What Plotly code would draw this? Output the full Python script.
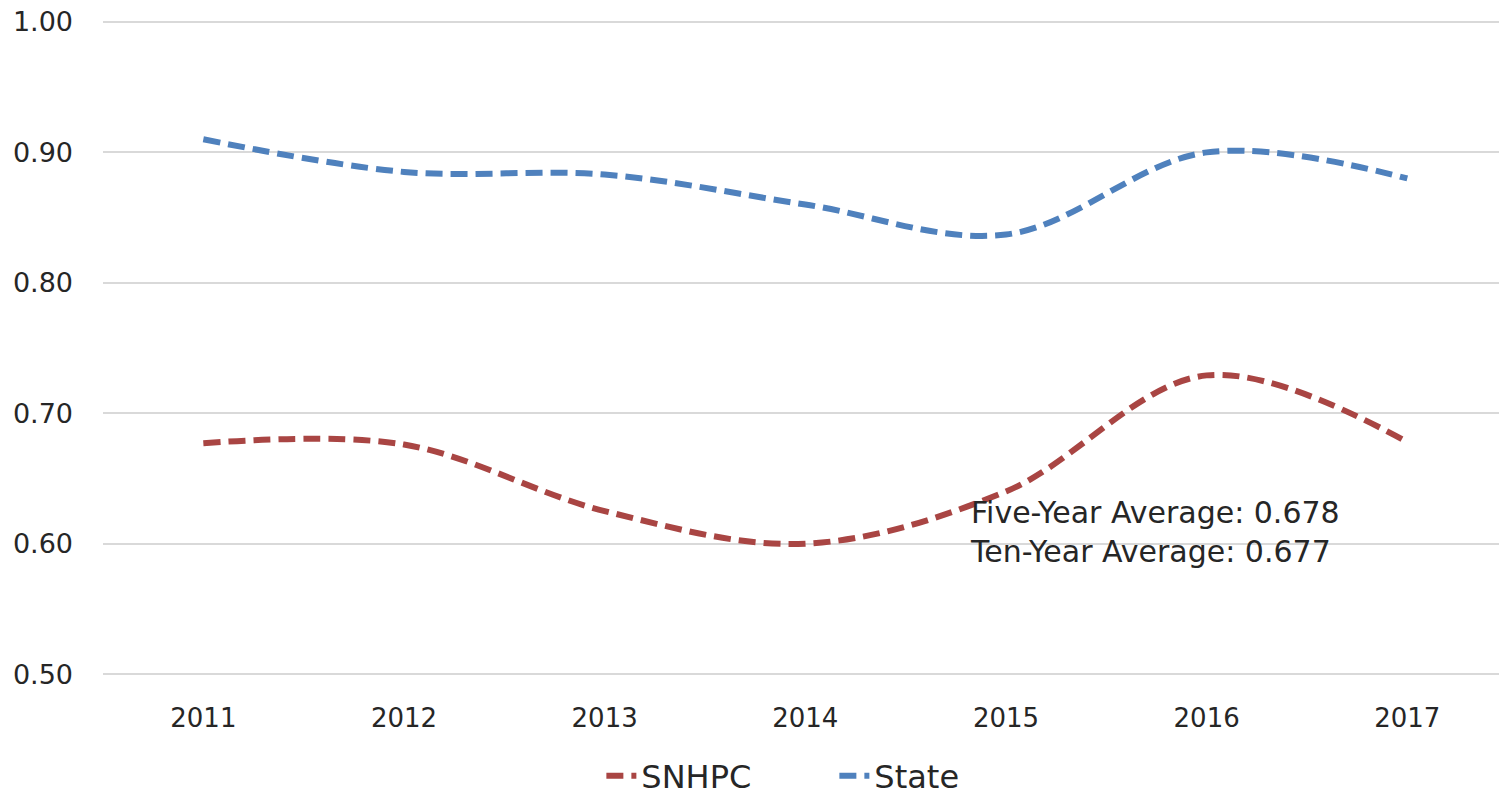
import plotly.graph_objects as go

years = ["2011", "2012", "2013", "2014", "2015", "2016", "2017"]
snhpc = [0.677, 0.676, 0.625, 0.600, 0.640, 0.729, 0.678]
state = [0.910, 0.885, 0.883, 0.860, 0.837, 0.900, 0.880]
y_ticks = [0.5, 0.6, 0.7, 0.8, 0.9, 1.0]
y_labels = ["0.50", "0.60", "0.70", "0.80", "0.90", "1.00"]
note_lines = ["Five-Year Average: 0.678", "Ten-Year Average: 0.677"]

FONT = "DejaVu Sans"
TXT = "#262626"

fig = go.Figure()
fig.add_trace(go.Scatter(
    x=years, y=snhpc, name="SNHPC", mode="lines",
    line=dict(color="#A94543", width=6, dash="17px,8px", shape="spline", smoothing=1.0),
))
fig.add_trace(go.Scatter(
    x=years, y=state, name="State", mode="lines",
    line=dict(color="#4F81BD", width=6, dash="17px,8px", shape="spline", smoothing=1.0),
))

fig.add_annotation(
    x=4, y=0.6, xref="x", yref="y",
    text="<br>".join(note_lines),
    showarrow=False, xanchor="left", yanchor="middle", align="left",
    xshift=-38, yshift=12,
    font=dict(family=FONT, size=30, color=TXT),
)

fig.update_layout(
    width=1499, height=796,
    margin=dict(l=103, r=0, t=18, b=118, autoexpand=False),
    paper_bgcolor="white", plot_bgcolor="white",
    showlegend=True,
    legend=dict(orientation="h", x=0.357, xanchor="left",
                yref="container", y=0.0251, yanchor="middle",
                font=dict(family=FONT, size=32, color=TXT),
                entrywidth=188, entrywidthmode="pixels",
                traceorder="normal"),
    font=dict(family=FONT, color=TXT),
)
fig.update_xaxes(
    type="category", range=[-0.5, 6.457],
    showgrid=False, showline=False, zeroline=False, ticks="",
    tickfont=dict(family=FONT, size=26, color=TXT), ticklabelstandoff=22,
)
fig.update_yaxes(
    range=[0.497, 1.003], tickvals=y_ticks, ticktext=y_labels,
    showgrid=True, gridcolor="#D9D9D9", gridwidth=2, zeroline=False, showline=False,
    ticks="", tickfont=dict(family=FONT, size=27, color=TXT), ticklabelstandoff=29,
)

fig.write_html(
    "out.html",
    config={"displayModeBar": False},
    post_script="document.body.style.margin='0';document.body.style.overflow='hidden';",
)
